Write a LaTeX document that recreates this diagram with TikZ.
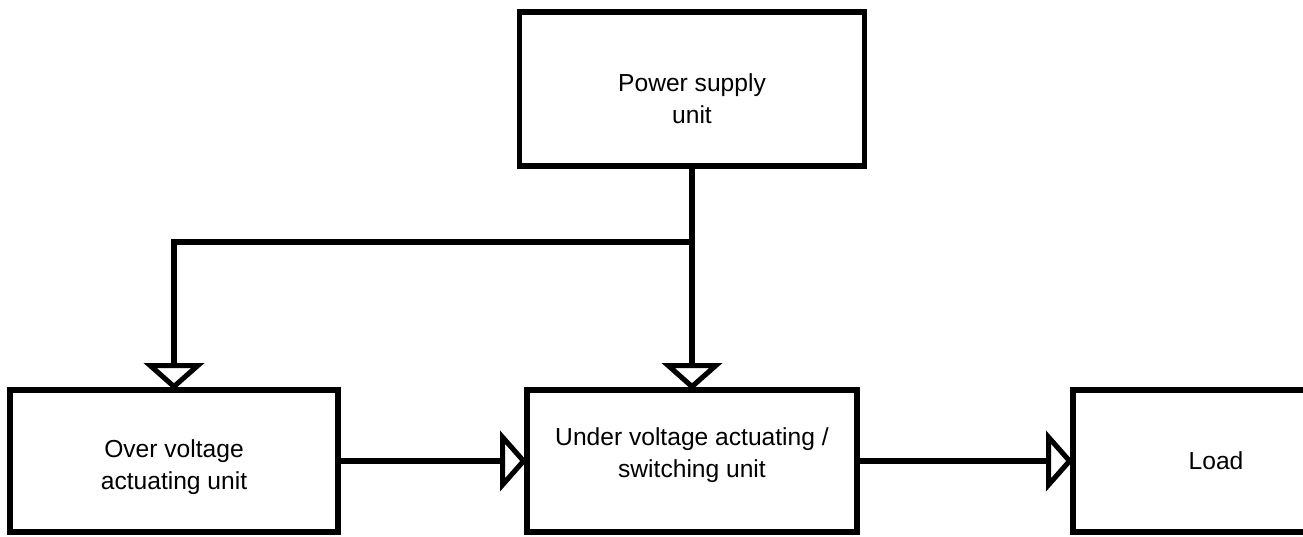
\documentclass[tikz,border=0pt]{standalone}
\usepackage{fontspec}
\setmainfont{Liberation Sans}
\usepackage{tikz}
\usetikzlibrary{positioning,arrows.meta}
\tikzset{
  unitbox/.style={rectangle, draw=black, line width=2.9pt, outer sep=0pt, align=center,
    minimum height=2.84cm, font=\fontsize{14}{18}\selectfont},
  flow/.style={-{Triangle[open, length=0.54cm, width=1.2cm]}, line width=2.9pt, draw=black}
}

\begin{document}
\begin{tikzpicture}
\useasboundingbox (0,0) rectangle (26.06,-10.74);
\clip (0,0) rectangle (26.06,-10.74);
\node[unitbox, minimum width=6.56cm] (ov) at (3.48,-9.22) {\rule{0pt}{17pt}Over voltage\\actuating unit};
\node[unitbox, minimum width=6.6cm, right=3.78cm of ov] (uv) {Under voltage actuating /\\switching unit\rule[-9.7pt]{0pt}{9.7pt}};
\node[unitbox, minimum width=5.72cm, right=4.32cm of uv] (ld) {Load};
\node[unitbox, minimum width=6.9cm, minimum height=3.08cm, above=4.48cm of uv] (ps) {\rule{0pt}{21pt}Power supply\\unit};
\coordinate[below=1.52cm of ps.south] (jn);
\draw[flow] (ps) -- (uv);
\draw[flow] (jn) -| (ov);
\draw[flow] (ov) -- (uv);
\draw[flow] (uv) -- (ld);
\end{tikzpicture}
\end{document}
